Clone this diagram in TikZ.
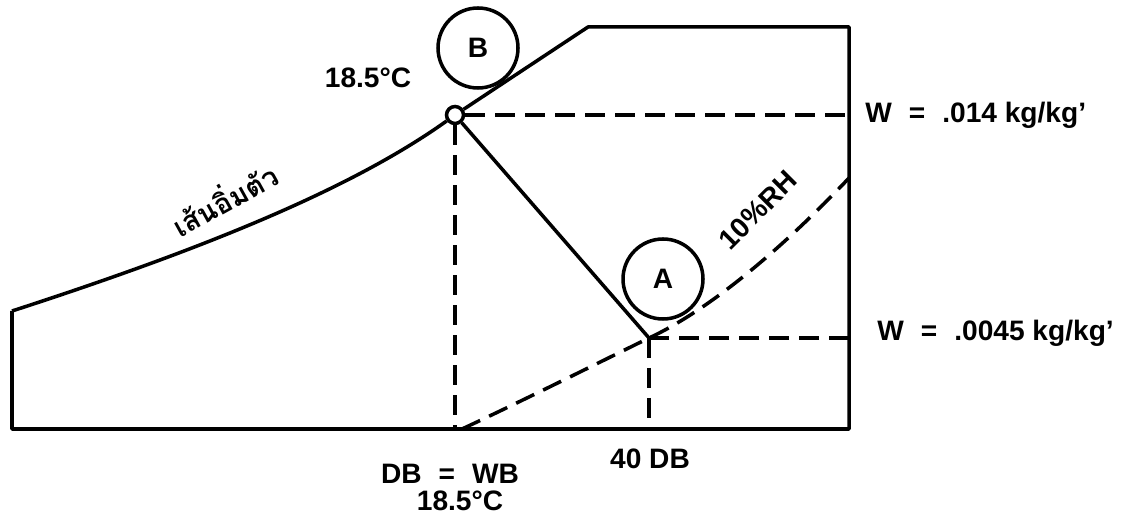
\documentclass[tikz,border=0pt]{standalone}
\usepackage{fontspec}
\setmainfont{Liberation Sans}
\newfontfamily\thaifont[Script=Thai]{Loma}
\usetikzlibrary{positioning,calc}
\newcommand\wideeq{\hspace{3.4mm}=\hspace{3.4mm}}

\begin{document}
\begin{tikzpicture}[
    x=0.2mm, y=-0.2mm,
    font=\bfseries\fontsize{16}{19}\selectfont,
    chart/.style={line width=2pt, line join=round},
    guide/.style={line width=2pt, dash pattern=on 4mm off 2mm},
    tag/.style={circle, draw, line width=2pt, minimum size=16mm, inner sep=0pt},
    dot/.style={circle, draw, line width=2pt, minimum size=3.4mm, inner sep=0pt},
    lbl/.style={inner sep=0pt},
]
\useasboundingbox (0,0) rectangle (1135,531);

% =====================================================================
%  chart outline and saturation curve
% =====================================================================
\coordinate (bl)   at (12,429);
\coordinate (tl)   at (12,311);
\coordinate (br)   at (849,429);
\coordinate (tr)   at (849,27);
\coordinate (kink) at (588,27);

\node[dot] (ptB) at (455,115) {};
\coordinate (ptA) at (649,338);

\draw[chart] (tl) -- (bl) -- (br) -- (tr) -- (kink) -- (ptB);
\draw[chart] (tl) .. controls (200,250) and (350,190) .. (ptB);
\draw[chart] (ptB) -- (ptA);

% =====================================================================
%  guide lines and the 10% RH curve
% =====================================================================
\draw[guide] (ptB) -- (ptB -| br);
\draw[guide] (ptB) -- (ptB |- bl);
\draw[guide] (ptA) -- (ptA -| br);
\draw[guide] (ptA) -- (ptA |- bl);

\coordinate (rh0) at (462,429);
\coordinate (rh1) at (849,178);
\draw[guide] (rh0) .. controls (520,402) and (600,362) .. (ptA)
                   .. controls (720,305) and (800,230) .. (rh1);

% =====================================================================
%  labels
% =====================================================================
\node[tag] (circB) at (478,48)  {B};
\node[tag] (circA) at (663,279) {A};

\node[lbl] (tempB) at (368,78) {18.5°C};
\node[lbl,anchor=west] (wB) at (865,115) {W\wideeq.014 kg/kg'};
\node[lbl,anchor=west] (wA) at (877,333) {W\wideeq.0045 kg/kg'};
\node[lbl] (dbwb) at (450,474) {DB\wideeq WB};
\node[lbl] (tempD) at (460,501) {18.5°C};
\node[lbl] (db40) at (650,459) {40 DB};
\node[lbl,rotate=45] (rh) at (758,210) {10\%RH};
\node[lbl,rotate=29,font=\thaifont\bfseries\fontsize{16}{19}\selectfont] (sat)
     at (224,198) {เส้นอิ่มตัว};

\end{tikzpicture}
\end{document}
